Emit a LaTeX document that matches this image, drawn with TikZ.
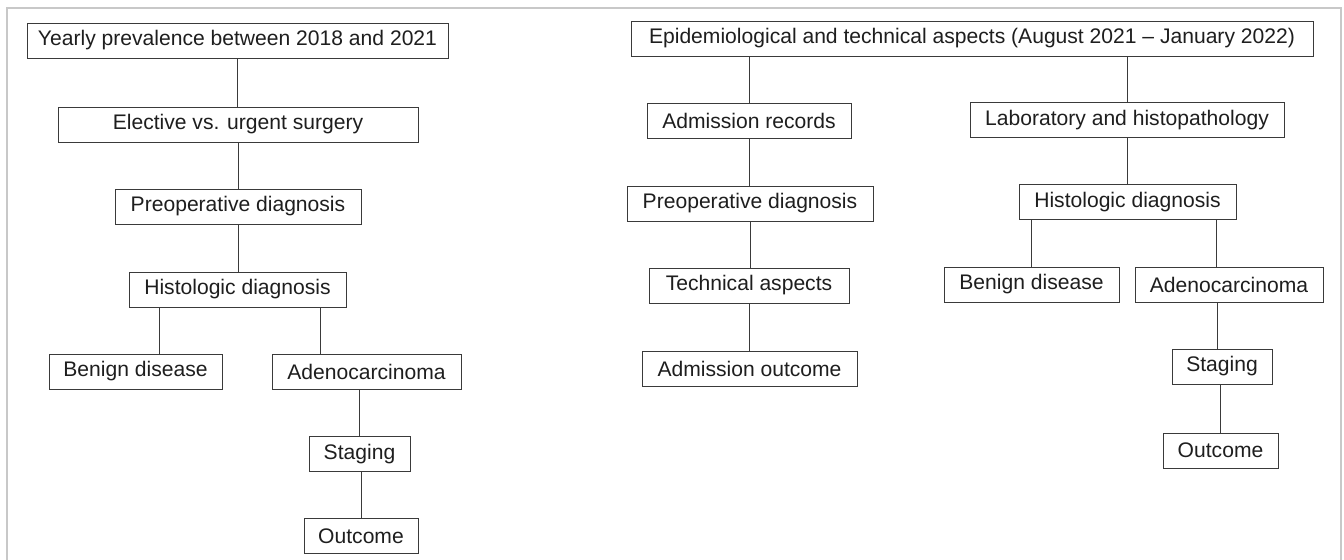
\documentclass[tikz,border=0pt]{standalone}
\usepackage{fontspec}
\setmainfont{Liberation Sans}
\usepackage{xcolor}
\definecolor{boxline}{HTML}{3A3A3A}
\definecolor{boxtext}{HTML}{1E1E1E}
\definecolor{framegray}{HTML}{C8C8C8}

\begin{document}
\begin{tikzpicture}[
    x=0.25mm, y=-0.25mm,
    stepbox/.style={rectangle, draw=boxline, line width=0.7pt, minimum height=8.75mm,
      inner sep=0pt, text=boxtext, font=\fontsize{15}{18}\selectfont},
    link/.style={draw=boxline, line width=0.7pt},
  ]

  \useasboundingbox (0,0) rectangle (1344,560);

  % ---- the grey frame, open at the bottom
  \draw[framegray, line width=1.4pt] (7,560) -- (7,8) -- (1341,8) -- (1341,560);

  % ---- left study, 2018 to 2021
  \foreach \n/\x/\y/\w/\t in {%
      yearly/237.5/40.5/421/{Yearly prevalence between 2018 and 2021},
      elective/238/124.5/360/{Elective vs. urgent surgery},
      preopL/238/206.5/246/{Preoperative diagnosis},
      histoL/237.5/289.5/217/{Histologic diagnosis},
      benignL/135.5/371.5/173/{Benign disease},
      adenoL/366.5/371.5/189/{Adenocarcinoma},
      stagingL/359.5/454/101/{Staging},
      outcomeL/361/536/114/{Outcome}} {
    \node[stepbox, minimum width=\w*0.25mm] (\n) at (\x,\y) {\t};
  }

  % ---- right study, August 2021 to January 2022
  \foreach \n/\x/\y/\w/\t in {%
      epi/972/38.5/682/{Epidemiological and technical aspects (August 2021 -- January 2022)},
      admrec/749/120.5/204/{Admission records},
      lab/1127/120/314/{Laboratory and histopathology},
      preopR/750/203.5/246/{Preoperative diagnosis},
      histoR/1127.5/202/217/{Histologic diagnosis},
      tech/749/285.5/200/{Technical aspects},
      admout/749.5/368.5/215/{Admission outcome},
      benignR/1031.5/284.5/175/{Benign disease},
      adenoR/1229/284.5/188/{Adenocarcinoma},
      stagingR/1222/366.5/100/{Staging},
      outcomeR/1220.5/450.5/115/{Outcome}} {
    \node[stepbox, minimum width=\w*0.25mm] (\n) at (\x,\y) {\t};
  }

  % ---- where the off-centre legs drop
  \coordinate (dropA) at (159,0);
  \coordinate (dropB) at (320,0);
  \coordinate (dropC) at (1216,0);
  \coordinate (dropD) at (1217,0);

  % ---- left legs
  \draw[link] (yearly.south) -- (yearly.south |- elective.north);
  \draw[link] (elective.south) -- (elective.south |- preopL.north);
  \draw[link] (preopL.south) -- (preopL.south |- histoL.north);
  \draw[link] (histoL.south -| dropA) -- (benignL.north -| dropA);
  \draw[link] (histoL.south -| dropB) -- (adenoL.north -| dropB);
  \draw[link] (stagingL.north |- adenoL.south) -- (stagingL.north);
  \draw[link] (outcomeL.north |- stagingL.south) -- (outcomeL.north);

  % ---- right legs
  \draw[link] (admrec.north |- epi.south) -- (admrec.north);
  \draw[link] (lab.north |- epi.south) -- (lab.north);
  \draw[link] (admrec.south) -- (admrec.south |- preopR.north);
  \draw[link] (preopR.south) -- (preopR.south |- tech.north);
  \draw[link] (tech.south) -- (tech.south |- admout.north);
  \draw[link] (lab.south) -- (lab.south |- histoR.north);
  \draw[link] (benignR.north |- histoR.south) -- (benignR.north);
  \draw[link] (histoR.south -| dropC) -- (adenoR.north -| dropC);
  \draw[link] (adenoR.south -| dropD) -- (stagingR.north -| dropD);
  \draw[link] (outcomeR.north |- stagingR.south) -- (outcomeR.north);

\end{tikzpicture}
\end{document}
